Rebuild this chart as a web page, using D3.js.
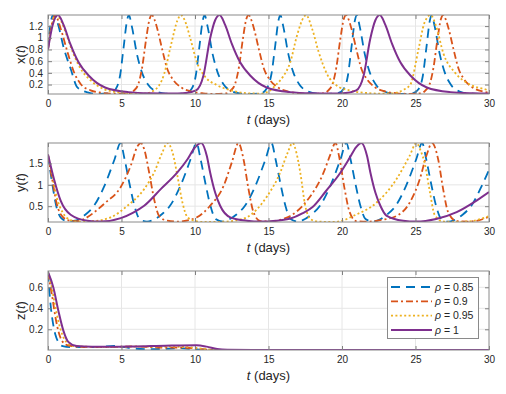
<!DOCTYPE html>
<html>
<head>
<meta charset="utf-8">
<script src="https://cdn.jsdelivr.net/npm/d3@7/dist/d3.min.js"></script>
<style>
    body { margin: 0; background: #fff; }
    svg { font-family: 'Liberation Sans', Arial, sans-serif; }
    .tick text { fill: #262626; font-size: 10px; }
    .tick line { stroke: #7f7f7f; }
</style>
</head>
<body>
<svg id="fig" width="506" height="394"></svg>
<script>
// legend labels (rho)
const rhoLabels = ['0.85', '0.9', '0.95', '1']

// shared time axis
const tTicks = [0, 5, 10, 15, 20, 25, 30]
const tLimits = [0, 30]

// axis limits + ticks per panel
const xLimits = [0.038, 1.39]
const xTicks = [0.2, 0.4, 0.6, 0.8, 1, 1.2]
const yLimits = [0.13, 1.98]
const yTicks = [0.5, 1, 1.5]
const zLimits = [0.003, 0.755]
const zTicks = [0.2, 0.4, 0.6]

// x(t), [t, value]
const x085 = [[0,0.8],[0.15,1.2],[0.35,1.39],[0.63,1.27],[1.09,0.81],[1.54,0.47],[2.0,0.15],[2.7,0.065],[3.4,0.04],
    [4.2,0.05],[4.6,0.12],[4.9,0.35],[5.15,0.85],[5.38,1.3],[5.5,1.39],[5.7,1.2],[6.05,0.72],[6.4,0.4],[6.8,0.2],[7.4,0.08],[8.0,0.045],[8.7,0.04],
    [9.35,0.05],[9.75,0.12],[10.05,0.35],[10.3,0.85],[10.53,1.3],[10.65,1.39],[10.85,1.2],[11.2,0.72],[11.55,0.4],[11.95,0.2],[12.55,0.08],[13.15,0.045],[13.85,0.04],
    [14.5,0.05],[14.9,0.14],[15.2,0.38],[15.45,0.85],[15.68,1.3],[15.8,1.39],[16.0,1.2],[16.35,0.72],[16.7,0.4],[17.1,0.2],[17.7,0.08],[18.3,0.045],[19.0,0.04],
    [19.7,0.05],[20.1,0.12],[20.4,0.35],[20.65,0.85],[20.88,1.3],[21.0,1.39],[21.2,1.2],[21.55,0.72],[21.9,0.4],[22.3,0.2],[22.9,0.08],[23.5,0.045],[24.2,0.04],
    [24.8,0.05],[25.2,0.12],[25.5,0.35],[25.75,0.85],[25.98,1.3],[26.1,1.39],[26.3,1.2],[26.65,0.72],[27.0,0.4],[27.4,0.2],[28.0,0.08],[28.6,0.045],[29.3,0.04],[30,0.04]]
const x09 = [[0,0.8],[0.2,1.15],[0.48,1.39],[0.86,1.16],[1.32,0.76],[1.77,0.41],[2.22,0.21],[2.9,0.1],[3.6,0.06],[4.5,0.043],
    [5.56,0.05],[5.86,0.1],[6.16,0.22],[6.41,0.5],[6.66,0.95],[6.91,1.32],[7.06,1.39],[7.26,1.3],[7.46,1.13],[7.76,0.81],[8.11,0.47],[8.46,0.3],[9.06,0.15],[9.76,0.08],[10.56,0.05],[11.4,0.04],
    [12.14,0.05],[12.44,0.1],[12.74,0.22],[12.99,0.5],[13.24,0.95],[13.49,1.32],[13.64,1.39],[13.84,1.3],[14.04,1.13],[14.34,0.81],[14.69,0.47],[15.04,0.3],[15.64,0.15],[16.34,0.08],[17.14,0.05],[18.0,0.04],
    [18.77,0.05],[19.07,0.1],[19.37,0.22],[19.62,0.5],[19.87,0.95],[20.12,1.32],[20.27,1.39],[20.47,1.3],[20.67,1.13],[20.97,0.81],[21.32,0.47],[21.67,0.3],[22.27,0.15],[22.97,0.08],[23.77,0.05],[24.6,0.04],
    [25.38,0.05],[25.68,0.1],[25.98,0.22],[26.23,0.5],[26.48,0.95],[26.73,1.32],[26.88,1.39],[27.08,1.3],[27.28,1.13],[27.58,0.81],[27.93,0.47],[28.28,0.3],[28.88,0.15],[29.58,0.08],[30,0.065]]
const x095 = [[0,0.8],[0.25,1.2],[0.55,1.39],[0.9,1.28],[1.2,1.09],[1.77,0.7],[2.22,0.47],[2.9,0.27],[3.81,0.12],[4.72,0.07],[5.6,0.05],[6.54,0.045],
    [7.22,0.1],[7.9,0.38],[8.36,0.87],[8.81,1.3],[9.04,1.39],[9.3,1.3],[9.67,1.0],[10.13,0.58],[10.7,0.33],[11.5,0.19],[12.6,0.09],[13.6,0.05],[14.5,0.045],
    [15.05,0.09],[15.57,0.21],[16.03,0.35],[16.48,0.58],[16.94,1.04],[17.39,1.35],[17.55,1.39],[17.96,1.16],[18.41,0.76],[18.98,0.38],[19.66,0.18],[20.5,0.1],[21.5,0.06],[22.5,0.045],[23.5,0.05],
    [24.1,0.1],[24.65,0.2],[25.2,0.8],[25.6,1.25],[26.02,1.39],[26.4,1.2],[26.9,0.73],[27.7,0.4],[28.7,0.2],[29.7,0.12],[30,0.1]]
const x1 = [[0,0.8],[0.3,1.2],[0.68,1.39],[1.06,1.22],[1.51,0.9],[2.08,0.58],[2.78,0.35],[3.88,0.15],[5.48,0.07],[6.98,0.05],[8.48,0.045],[9.17,0.05],
    [10.07,0.1],[10.57,0.35],[11.02,0.98],[11.37,1.3],[11.67,1.39],[12.05,1.22],[12.5,0.9],[13.07,0.58],[13.77,0.35],[14.87,0.15],[16.47,0.07],[17.97,0.05],[19.47,0.045],[20.07,0.05],
    [20.97,0.1],[21.47,0.35],[21.92,0.98],[22.27,1.3],[22.57,1.39],[22.95,1.22],[23.4,0.9],[23.97,0.58],[24.67,0.35],[25.77,0.15],[27.37,0.07],[28.87,0.05],[30,0.045]]

// y(t)
const y085 = [[0,1.7],[0.3,1.0],[0.6,0.45],[0.9,0.22],[1.3,0.15],[1.93,0.17],[2.53,0.3],[3.13,0.51],[3.83,0.97],[4.53,1.6],[4.93,1.98],[5.21,1.6],[5.53,1.05],[5.88,0.51],[6.23,0.2],[6.73,0.14],
    [7.1,0.17],[7.7,0.3],[8.3,0.51],[9.0,0.97],[9.7,1.6],[10.1,1.98],[10.38,1.6],[10.7,1.05],[11.05,0.51],[11.4,0.2],[11.9,0.14],
    [12.2,0.17],[12.8,0.3],[13.4,0.51],[14.1,0.97],[14.8,1.6],[15.2,1.98],[15.48,1.6],[15.8,1.05],[16.15,0.51],[16.5,0.2],[17.0,0.14],
    [17.3,0.17],[17.9,0.3],[18.5,0.51],[19.2,0.97],[19.9,1.6],[20.3,1.98],[20.58,1.6],[20.9,1.05],[21.25,0.51],[21.6,0.2],[22.1,0.14],
    [22.45,0.17],[23.05,0.3],[23.65,0.51],[24.35,0.97],[25.05,1.6],[25.45,1.98],[25.73,1.6],[26.05,1.05],[26.4,0.51],[26.75,0.2],[27.25,0.14],
    [27.6,0.17],[28.2,0.3],[28.8,0.51],[29.5,0.97],[30,1.35]]
const y09 = [[0,1.7],[0.3,1.1],[0.6,0.55],[1.0,0.25],[1.5,0.16],[2.0,0.15],[2.45,0.2],[3.3,0.4],[3.9,0.58],[4.95,0.95],[5.63,1.45],[6.08,1.9],[6.31,1.98],[6.54,1.84],[6.88,1.29],[7.22,0.66],[7.56,0.27],[8.12,0.16],[8.8,0.14],
    [9.5,0.17],[10.13,0.24],[11.03,0.51],[11.94,0.97],[12.5,1.52],[12.96,1.98],[13.3,1.6],[13.64,0.9],[13.98,0.36],[14.44,0.15],[15.2,0.14],
    [15.9,0.19],[16.48,0.27],[17.62,0.63],[18.75,1.29],[19.2,1.7],[19.55,1.98],[19.84,1.6],[20.18,0.9],[20.52,0.36],[20.98,0.15],[21.8,0.14],
    [22.7,0.18],[23.7,0.27],[24.6,0.58],[25.29,1.13],[25.74,1.68],[26.13,1.98],[26.54,1.6],[26.88,0.9],[27.22,0.36],[27.8,0.15],[28.6,0.14],[29.3,0.17],[30,0.25]]
const y095 = [[0,1.7],[0.3,1.2],[0.6,0.7],[1.0,0.35],[1.5,0.18],[2.0,0.14],[3.0,0.15],[4.27,0.24],[5.4,0.51],[6.54,0.9],[7.22,1.29],[7.78,1.76],[8.12,1.98],[8.47,1.76],[8.81,1.2],[9.15,0.58],[9.49,0.24],[9.94,0.16],[10.6,0.13],
    [11.8,0.135],[12.8,0.17],[13.53,0.24],[14.9,0.73],[15.8,1.29],[16.3,1.75],[16.64,1.98],[16.9,1.75],[17.16,1.29],[17.5,0.51],[17.84,0.2],[18.4,0.14],[19.5,0.13],
    [20.1,0.17],[20.75,0.27],[22.34,0.58],[23.7,1.13],[24.6,1.68],[25.06,1.98],[25.35,1.8],[25.63,1.5],[25.97,0.85],[26.3,0.3],[26.8,0.15],[27.6,0.13],[28.8,0.15],[29.6,0.22],[30,0.27]]
const y1 = [[0,1.71],[0.41,1.13],[0.86,0.63],[1.54,0.3],[2.68,0.16],[3.6,0.14],[4.95,0.22],[5.8,0.35],[6.54,0.51],[7.67,0.9],[8.8,1.29],[9.49,1.6],[10.0,1.88],[10.42,1.98],
    [10.8,1.68],[11.03,1.29],[11.37,0.82],[11.71,0.51],[12.4,0.24],[13.53,0.16],[14.5,0.14],[15.5,0.16],
    [16.5,0.21],[17.3,0.33],[18.0,0.48],[18.9,0.85],[19.9,1.29],[20.5,1.62],[20.95,1.88],[21.32,1.98],
    [21.7,1.68],[21.93,1.29],[22.27,0.82],[22.61,0.51],[23.02,0.28],[24.16,0.16],[25.06,0.14],[26.4,0.2],[27.8,0.36],[29.15,0.63],[30,0.83]]

// z(t)
const z085 = [[0,0.74],[0.1,0.55],[0.2,0.4],[0.35,0.25],[0.5,0.15],[0.75,0.07],[1.0,0.04],[1.5,0.03],[2.5,0.03],[3.5,0.032],[4.5,0.042],[5.2,0.03],[6.0,0.015],[7.0,0.01],[8.0,0.015],[9.0,0.02],[10.0,0.01],[11.0,0.005],[12,0.004],[20,0.004],[30,0.004]]
const z09 = [[0,0.74],[0.15,0.62],[0.3,0.5],[0.5,0.32],[0.75,0.16],[1.0,0.08],[1.4,0.045],[2.0,0.035],[3,0.03],[4,0.03],[5,0.035],[6,0.037],[7,0.03],[8,0.025],[9,0.025],[10,0.02],[10.5,0.01],[11,0.005],[12,0.004],[20,0.004],[30,0.004]]
const z095 = [[0,0.74],[0.2,0.64],[0.45,0.45],[0.7,0.28],[1.0,0.14],[1.3,0.07],[1.7,0.04],[2.5,0.035],[4,0.03],[6,0.035],[8,0.035],[9.5,0.03],[10.5,0.015],[11,0.007],[12,0.004],[20,0.004],[30,0.004]]
const z1 = [[0,0.746],[0.36,0.6],[0.7,0.38],[1.04,0.19],[1.38,0.08],[1.95,0.04],[3,0.033],[4,0.033],[5,0.035],[6,0.037],[7,0.04],[8,0.043],[9,0.047],[10.1,0.048],[10.8,0.035],[11.5,0.012],[12.2,0.005],[14,0.004],[20,0.004],[30,0.004]]

// line styles, same order as rhoLabels
const colors = ['#0072BD', '#D95319', '#EDB120', '#7E2F8E']
const dashes = ['9,6', '7,3,2,3', '2,2.4', null]

const W = 506, H = 394
const left = 48, right = 489
const axisColor = '#8a8a8a', gridColor = '#e6e6e6', textColor = '#262626'

const panels = [
    { name: 'x', top: 15, bottom: 94, limits: xLimits, ticks: xTicks, series: [x085, x09, x095, x1] },
    { name: 'y', top: 143, bottom: 222, limits: yLimits, ticks: yTicks, series: [y085, y09, y095, y1] },
    { name: 'z', top: 271, bottom: 350, limits: zLimits, ticks: zTicks, series: [z085, z09, z095, z1] }
]

const svg = d3.select('#fig')
svg.append('rect').attr('width', W).attr('height', H).attr('fill', '#fff')

const tScale = d3.scaleLinear().domain(tLimits).range([left, right])

panels.forEach(p => {
    const vScale = d3.scaleLinear().domain(p.limits).range([p.bottom, p.top])
    const g = svg.append('g').attr('class', 'panel panel-' + p.name)

    // grid
    g.append('g').selectAll('line')
        .data(tTicks.slice(1, -1))
        .join('line')
        .attr('x1', d => tScale(d)).attr('x2', d => tScale(d))
        .attr('y1', p.top).attr('y2', p.bottom)
        .attr('stroke', gridColor)
    g.append('g').selectAll('line')
        .data(p.ticks)
        .join('line')
        .attr('x1', left).attr('x2', right)
        .attr('y1', d => vScale(d)).attr('y2', d => vScale(d))
        .attr('stroke', gridColor)

    const clipId = 'clip-' + p.name
    svg.append('clipPath').attr('id', clipId)
        .append('rect')
        .attr('x', left).attr('y', p.top)
        .attr('width', right - left).attr('height', p.bottom - p.top)

    const line = d3.line()
        .x(d => tScale(d[0]))
        .y(d => vScale(d[1]))
        .curve(d3.curveMonotoneX)

    g.append('g').attr('clip-path', `url(#${clipId})`)
        .selectAll('path')
        .data(p.series)
        .join('path')
        .attr('d', d => line(d))
        .attr('fill', 'none')
        .attr('stroke', (d, k) => colors[k])
        .attr('stroke-width', (d, k) => k === 3 ? 2 : 1.8)
        .attr('stroke-dasharray', (d, k) => dashes[k])

    // axes, ticks pointing inwards
    g.append('g').attr('transform', `translate(0,${p.bottom})`)
        .call(d3.axisBottom(tScale).tickValues(tTicks).tickSize(-4).tickPadding(6))
        .call(a => a.select('.domain').remove())
    g.append('g').attr('transform', `translate(0,${p.top})`)
        .call(d3.axisTop(tScale).tickValues(tTicks).tickSize(-4).tickFormat(''))
        .call(a => a.select('.domain').remove())
    g.append('g').attr('transform', `translate(${left},0)`)
        .call(d3.axisLeft(vScale).tickValues(p.ticks).tickSize(-4).tickPadding(5).tickFormat(d => String(d)))
        .call(a => a.select('.domain').remove())
    g.append('g').attr('transform', `translate(${right},0)`)
        .call(d3.axisRight(vScale).tickValues(p.ticks).tickSize(-4).tickFormat(''))
        .call(a => a.select('.domain').remove())
    g.selectAll('.tick line').attr('stroke', axisColor)

    g.append('rect')
        .attr('x', left).attr('y', p.top)
        .attr('width', right - left).attr('height', p.bottom - p.top)
        .attr('fill', 'none').attr('stroke', axisColor)

    // labels
    const xl = g.append('text')
        .attr('x', (left + right) / 2).attr('y', p.bottom + 29.5)
        .attr('text-anchor', 'middle')
        .attr('font-size', 13).attr('fill', textColor)
    xl.append('tspan').attr('font-style', 'italic').text('t')
    xl.append('tspan').text(' (days)')

    const yl = g.append('text')
        .attr('transform', `translate(25,${(p.top + p.bottom) / 2}) rotate(-90)`)
        .attr('text-anchor', 'middle')
        .attr('font-size', 13).attr('fill', textColor)
    yl.append('tspan').text(p.name + '(')
    yl.append('tspan').attr('font-style', 'italic').text('t')
    yl.append('tspan').text(')')
})

// legend in the bottom panel
const legend = svg.append('g').attr('class', 'legend')
legend.append('rect')
    .attr('x', 387.5).attr('y', 277.5).attr('width', 91).attr('height', 61)
    .attr('fill', '#fff').attr('stroke', axisColor)

const rowY = d3.scalePoint().domain(rhoLabels).range([287, 330])

rhoLabels.forEach((r, k) => {
    const yy = rowY(r)
    legend.append('line')
        .attr('x1', 391).attr('x2', 432)
        .attr('y1', yy).attr('y2', yy)
        .attr('stroke', colors[k]).attr('stroke-width', k === 3 ? 2 : 1.8)
        .attr('stroke-dasharray', dashes[k])
    const t = legend.append('text')
        .attr('x', 435).attr('y', yy + 3.6)
        .attr('font-size', 10.5).attr('fill', textColor)
    t.append('tspan').attr('font-style', 'italic').text('ρ')
    t.append('tspan').text(' = ' + r)
})
</script>
</body>
</html>
